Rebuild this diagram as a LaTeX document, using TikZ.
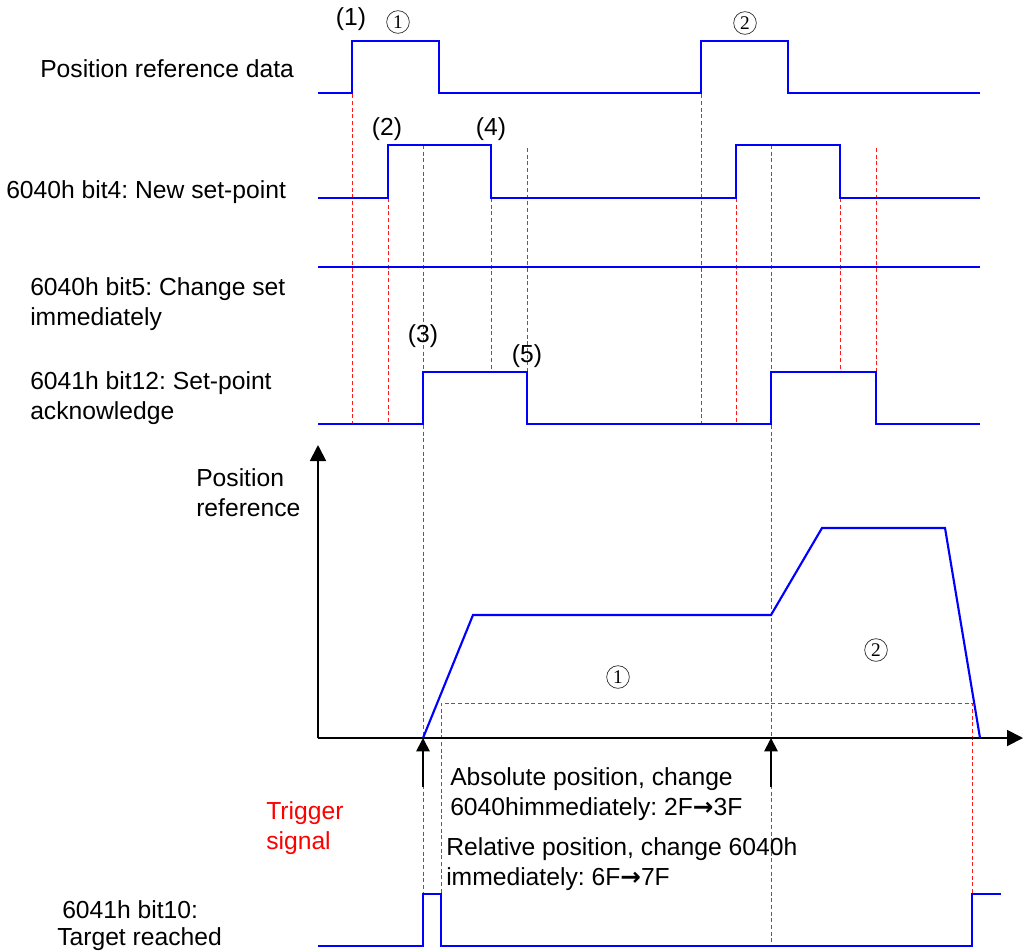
\documentclass[tikz,border=0pt]{standalone}
\usepackage{fontspec}
\setmainfont{Liberation Sans}
\newfontfamily\symfont{DejaVu Sans}
\newfontfamily\digitfont{Liberation Serif}
\usetikzlibrary{arrows.meta}
\frenchspacing
\begin{document}
\begin{tikzpicture}[x=0.75pt,y=-0.75pt,
  wave/.style={draw=blue, line width=1.6pt, line join=miter},
  guide/.style={draw=red!90, line width=0.65pt, dash pattern=on 3pt off 2pt},
  axisline/.style={draw=black, line width=1.4pt, -{Triangle[length=12pt,width=12pt]}},
  trig/.style={draw=black, line width=1.4pt, -{Triangle[length=10pt,width=10pt]}},
  lbl/.style={font=\fontsize{18.5}{22}\selectfont, inner sep=0pt, align=left, anchor=base west},
  tag/.style={font=\fontsize{18.5}{22}\selectfont, inner sep=0pt, anchor=center},
  circ/.style={circle, draw=black!80, line width=0.55pt, minimum size=17pt, inner sep=0pt,
    font=\digitfont\fontsize{14.5}{14.5}\selectfont, anchor=center}]
\useasboundingbox (0,0) rectangle (1024,950);

% red guide lines
\draw[guide] (352,41) -- (352,424);
\draw[guide] (388,198) -- (388,424);
\draw[guide] (423,145) -- (423,946);
\draw[guide] (491,198) -- (491,372);
\draw[guide] (527,148) -- (527,372);
\draw[guide] (701,41) -- (701,424);
\draw[guide] (736,198) -- (736,424);
\draw[guide] (771,145) -- (771,946);
\draw[guide] (840,198) -- (840,372);
\draw[guide] (876,148) -- (876,372);
\draw[guide] (441,946) -- (441,703) -- (972,703) -- (972,946);

% waveforms
\draw[wave] (318,93) -- (352,93) -- (352,41) -- (439,41) -- (439,93) -- (701,93) -- (701,41) -- (788,41) -- (788,93) -- (980,93);
\draw[wave] (318,198) -- (388,198) -- (388,145) -- (491,145) -- (491,198) -- (736,198) -- (736,145) -- (840,145) -- (840,198) -- (980,198);
\draw[wave] (318,267) -- (980,267);
\draw[wave] (318,424) -- (423,424) -- (423,372) -- (527,372) -- (527,424) -- (771,424) -- (771,372) -- (876,372) -- (876,424) -- (980,424);
\draw[wave] (318,946) -- (423,946) -- (423,894) -- (441,894) -- (441,946) -- (972,946) -- (972,894) -- (1001,894);

% position reference axes
\coordinate (O) at (318,738);
\coordinate (ytip) at (318,445);
\coordinate (xtip) at (1023,738);
\draw[axisline] (O) -- (ytip);
\draw[axisline] (O) -- (xtip);

% position profile
\draw[wave] (423,738) -- (473,615) -- (771,615) -- (822,528) -- (945,528) -- (980,738);

% trigger arrows
\coordinate (t1s) at (423,787);
\coordinate (t1e) at (423,738);
\coordinate (t2s) at (771,787);
\coordinate (t2e) at (771,738);
\draw[trig] (t1s) -- (t1e);
\draw[trig] (t2s) -- (t2e);

% labels
\node[lbl] (l1) at (40,77) {Position reference data};
\node[lbl] (l2) at (6,198) {6040h bit4: New set-point};
\node[lbl] (l3) at (30,325) {6040h bit5: Change set\\immediately};
\node[lbl] (l4) at (30,419) {6041h bit12: Set-point\\acknowledge};
\node[lbl] (l5) at (196,516) {Position\\reference};
\node[lbl, text=red] (l6) at (266,849) {Trigger\\signal};
\node[lbl] (l7) at (450,815) {Absolute position, change\\6040himmediately: 2F{\symfont\bfseries →}3F};
\node[lbl] (l8) at (446,885) {Relative position, change 6040h\\immediately: 6F{\symfont\bfseries →}7F};
\node[lbl] (l9) at (62,918) {6041h bit10:};
\node[lbl] (l10) at (57,945) {Target reached};

\node[tag] (n1) at (351,19) {(1)};
\node[tag] (n2) at (387,129) {(2)};
\node[tag] (n4) at (491,129) {(4)};
\node[tag] (n3) at (423,336) {(3)};
\node[tag] (n5) at (527,356) {(5)};

\node[circ] (c1) at (398,22) {1};
\node[circ] (c2) at (745,23) {2};
\node[circ] (c3) at (618,677) {1};
\node[circ] (c4) at (876,650) {2};
\end{tikzpicture}
\end{document}
